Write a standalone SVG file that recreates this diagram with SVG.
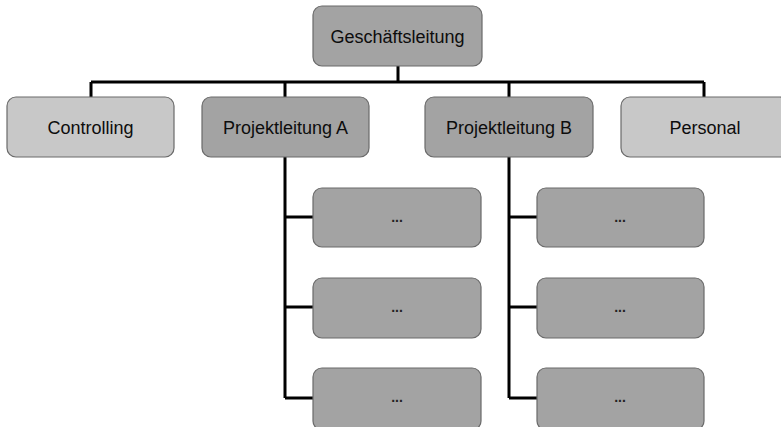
<svg xmlns="http://www.w3.org/2000/svg" width="781" height="427" viewBox="0 0 781 427">
<style>
.box{stroke:#6a6a6a;stroke-width:1.2}
.d{fill:#a3a3a3}
.l{fill:#c8c8c8}
.t{font-family:"Liberation Sans","DejaVu Sans",sans-serif;font-size:18px;fill:#0d0d0d;text-anchor:middle}
.s{font-family:"Liberation Sans","DejaVu Sans",sans-serif;font-size:14px;font-weight:bold;fill:#222;text-anchor:middle}
.c{fill:none;stroke:#000;stroke-width:3}
</style>
<rect width="781" height="427" fill="#fff"/>
<g id="connectors">
<path class="c" d="M398 66V82M91 82H704M91 82V97M285 82V97M509 82V97M704 82V97"/>
<path class="c" d="M285 157V398M285 217H313M285 307H313M285 398H313"/>
<path class="c" d="M509 157V398M509 217H537M509 307H537M509 398H537"/>
</g>
<g id="geschaeftsleitung"><rect class="box d" x="313" y="6" width="169" height="60" rx="9"/><text class="t" x="397.5" y="43">Geschäftsleitung</text></g>
<g id="controlling"><rect class="box l" x="7" y="97" width="167" height="60" rx="9"/><text class="t" x="90.5" y="134">Controlling</text></g>
<g id="projektA"><rect class="box d" x="202" y="97" width="167" height="60" rx="9"/><text class="t" x="285.5" y="134">Projektleitung A</text></g>
<g id="projektB"><rect class="box d" x="425" y="97" width="168" height="60" rx="9"/><text class="t" x="509" y="134">Projektleitung B</text></g>
<g id="personal"><rect class="box l" x="621" y="97" width="168" height="60" rx="9"/><text class="t" x="705" y="134">Personal</text></g>
<g id="a1"><rect class="box d" x="313" y="188" width="168" height="59" rx="9"/><text class="s" x="397" y="222">...</text></g>
<g id="a2"><rect class="box d" x="313" y="278" width="168" height="60" rx="9"/><text class="s" x="397" y="312">...</text></g>
<g id="a3"><rect class="box d" x="313" y="368" width="168" height="62" rx="9"/><text class="s" x="397" y="402">...</text></g>
<g id="b1"><rect class="box d" x="537" y="188" width="167" height="59" rx="9"/><text class="s" x="620" y="222">...</text></g>
<g id="b2"><rect class="box d" x="537" y="278" width="167" height="60" rx="9"/><text class="s" x="620" y="312">...</text></g>
<g id="b3"><rect class="box d" x="537" y="368" width="167" height="62" rx="9"/><text class="s" x="620" y="402">...</text></g>
</svg>
